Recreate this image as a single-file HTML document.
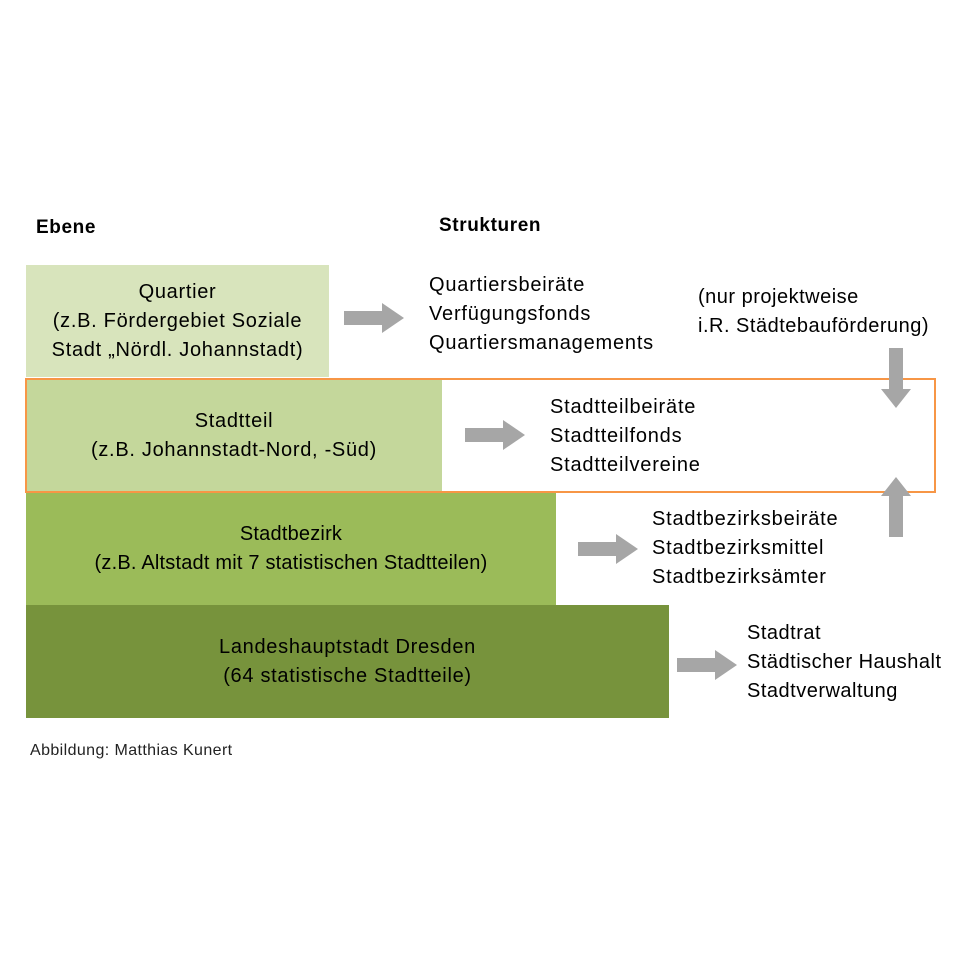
<!DOCTYPE html>
<html><head><meta charset="utf-8"><style>
body{margin:0;background:#fff;width:961px;height:960px;position:relative;font-family:"Liberation Sans",sans-serif;color:#000;overflow:hidden}
.a{position:absolute}
.box{position:absolute;display:flex;align-items:center;justify-content:center;text-align:center;font-size:20px;letter-spacing:0.7px;line-height:29px}
.t{position:absolute;font-size:20px;letter-spacing:0.8px;line-height:29px;white-space:nowrap}
</style></head><body>
<div class="t" style="left:36px;top:213px;font-weight:bold;font-size:19px;letter-spacing:0.6px">Ebene</div>
<div class="t" style="left:439px;top:211px;font-weight:bold;font-size:19px;letter-spacing:0.6px">Strukturen</div>

<div class="box" style="left:26px;top:265px;width:303px;height:112px;background:#d8e4bc">Quartier<br>(z.B. Fördergebiet Soziale<br>Stadt „Nördl. Johannstadt)</div>
<div class="box" style="left:26px;top:380px;width:416px;height:111px;background:#c4d79b">Stadtteil<br>(z.B. Johannstadt-Nord, -Süd)</div>
<div class="box" style="left:26px;top:493px;width:530px;height:112px;background:#9bbb59;letter-spacing:0.2px">Stadtbezirk<br>(z.B. Altstadt mit 7 statistischen Stadtteilen)</div>
<div class="box" style="left:26px;top:605px;width:643px;height:113px;background:#77933c">Landeshauptstadt Dresden<br>(64 statistische Stadtteile)</div>
<div class="a" style="left:25px;top:378px;width:907px;height:111px;border:2px solid #f79646"></div>

<div class="t" style="left:429px;top:271px">Quartiersbeiräte<br>Verfügungsfonds<br>Quartiersmanagements</div>
<div class="t" style="left:698px;top:283px;letter-spacing:0.5px">(nur projektweise<br>i.R. Städtebauförderung)</div>
<div class="t" style="left:550px;top:393px">Stadtteilbeiräte<br>Stadtteilfonds<br>Stadtteilvereine</div>
<div class="t" style="left:652px;top:505px">Stadtbezirksbeiräte<br>Stadtbezirksmittel<br>Stadtbezirksämter</div>
<div class="t" style="left:747px;top:619px;letter-spacing:0.5px">Stadtrat<br>Städtischer Haushalt<br>Stadtverwaltung</div>
<div class="t" style="left:30px;top:736px;font-size:16px;letter-spacing:0.4px;color:#222">Abbildung: Matthias Kunert</div>

<svg class="a" style="left:0;top:0" width="961" height="960">
<g fill="#a6a6a6">
<polygon points="344,311 382,311 382,303 404,318 382,333 382,325 344,325"/>
<polygon points="465,428 503,428 503,420 525,435 503,450 503,442 465,442"/>
<polygon points="578,542 616,542 616,534 638,549 616,564 616,556 578,556"/>
<polygon points="677,658 715,658 715,650 737,665 715,680 715,672 677,672"/>
<polygon points="889,348 903,348 903,389 911,389 896,408 881,389 889,389"/>
<polygon points="889,537 903,537 903,496 911,496 896,477 881,496 889,496"/>
</g></svg>
</body></html>
